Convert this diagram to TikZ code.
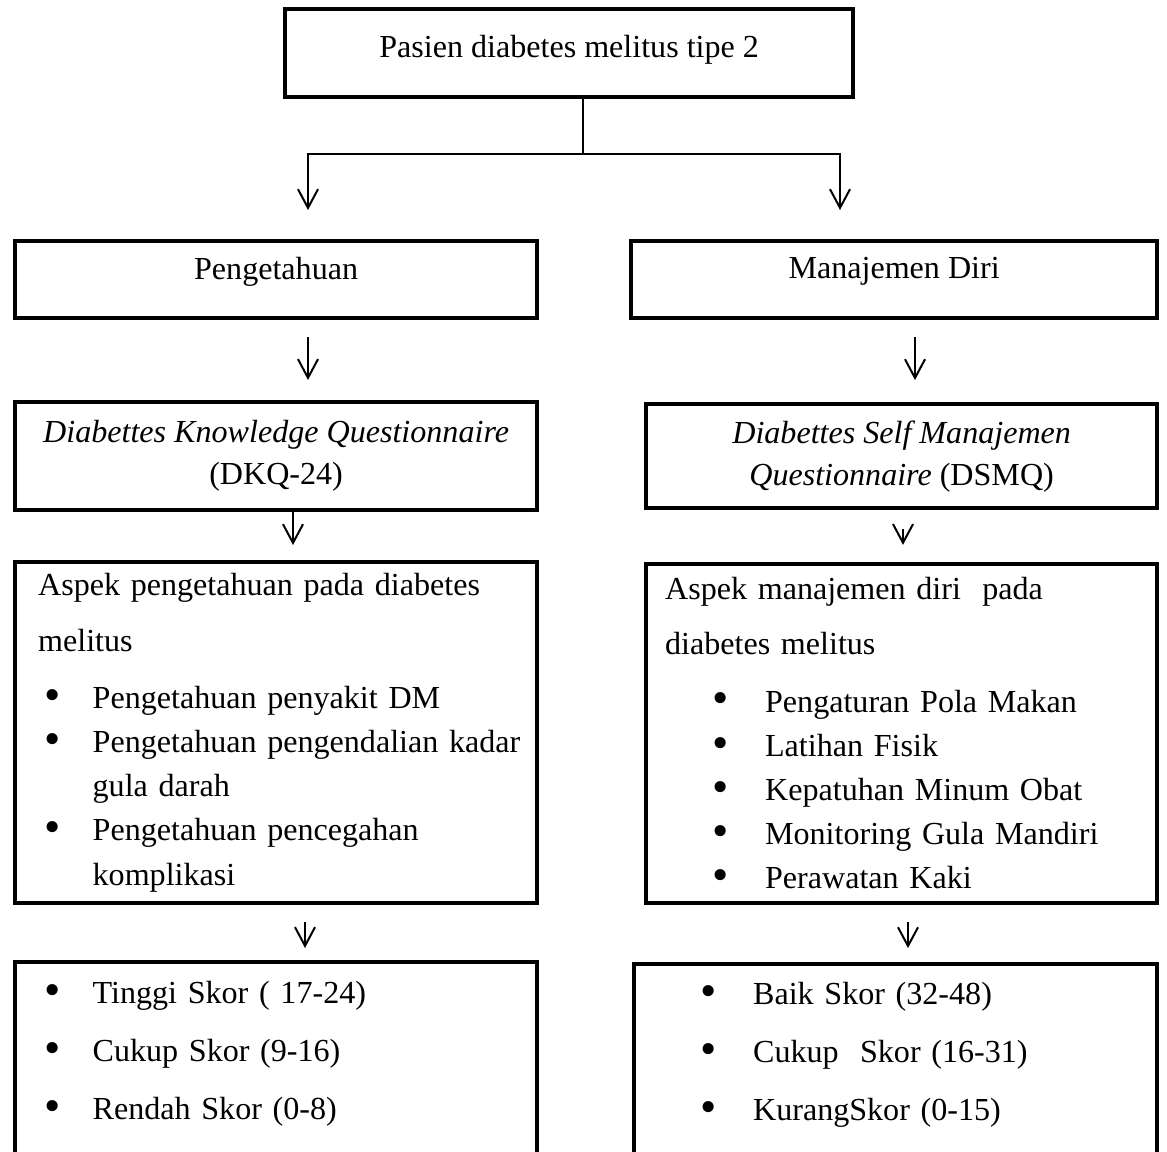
\documentclass[tikz,border=0pt]{standalone}
\usepackage{fontspec}
\setmainfont{Liberation Serif}
\usetikzlibrary{arrows.meta,calc,positioning}
\tikzset{%
    box/.style={%
        rectangle, draw=black, line width=1.6pt, anchor=north west, inner sep=0pt,
        font=\fontsize{12}{16.5}\selectfont
    },
    listbox/.style={%
        box, align=left, inner xsep=#1
    },
    com/.style={%
        -{Straight Barb[length=7pt,width=7.5pt]}, line width=0.75pt
    },
}
\newcommand{\bul}{\raisebox{-0.6pt}{\scalebox{1.45}{\textbullet}}}
\newcommand{\itm}[3]{\makebox[#2][l]{\hspace*{#1}\bul}\mbox{#3}}
\newcommand{\itmL}[1]{\itm{2.2pt}{20.4pt}{#1}}
\newcommand{\itmR}[1]{\itm{17.9pt}{37.4pt}{#1}}
\begin{document}
\begin{tikzpicture}[x=0.374pt,y=-0.374pt]
    \useasboundingbox (0,0) rectangle (1167,1151);
    \clip (0,0) rectangle (1167,1151);

    % boxes
    \node[box, minimum width=212.4pt, minimum height=32.9pt, text depth=5.1pt] (pasien) at (283,7) {Pasien diabetes melitus tipe 2};
    \node[box, minimum width=195.2pt, minimum height=28.8pt, text depth=8.6pt] (peng) at (13,239) {Pengetahuan};
    \node[box, minimum width=196.7pt, minimum height=28.8pt, text depth=8.6pt] (mandiri) at (629,239) {Manajemen Diri};
    \node[box, minimum width=195.2pt, minimum height=40.4pt, align=center, font=\fontsize{12}{15.7}\selectfont] (dkq) at (13,400)
        {\textit{Diabettes Knowledge Questionnaire}\\(DKQ-24)};
    \node[box, minimum width=191.1pt, minimum height=38.9pt, align=center, font=\fontsize{12}{15.7}\selectfont] (dsmq) at (644,402)
        {\textit{Diabettes Self Manajemen}\\\textit{Questionnaire} (DSMQ)};
    \node[listbox=8.6pt, text width=178pt, minimum height=127.5pt] (aspekP) at (13,560) {%
        Aspek pengetahuan pada diabetes\\[4.5pt]
        melitus\\[4.8pt]
        \itmL{Pengetahuan penyakit DM}\\
        \itmL{Pengetahuan pengendalian kadar}\\
        \hspace*{20.4pt}\mbox{gula darah}\\
        \itmL{Pengetahuan pencegahan}\\
        \hspace*{20.4pt}\mbox{komplikasi}};
    \node[listbox=7.1pt, text width=176.9pt, minimum height=126.8pt] (aspekM) at (644,562) {%
        Aspek manajemen diri\ \ pada\\[4.1pt]
        diabetes melitus\\[5.2pt]
        \itmR{Pengaturan Pola Makan}\\
        \itmR{Latihan Fisik}\\
        \itmR{Kepatuhan Minum Obat}\\
        \itmR{Monitoring Gula Mandiri}\\
        \itmR{Perawatan Kaki}};
    \node[listbox=8.6pt, text width=178pt, inner ysep=7.3pt] (skorP) at (13,960) {%
        \itmL{Tinggi Skor ( 17-24)}\\[5.2pt]
        \itmL{Cukup Skor (9-16)}\\[5.2pt]
        \itmL{Rendah Skor (0-8)}\\[40pt]
        \mbox{}};
    \node[listbox=7.1pt, text width=181.4pt, inner ysep=6.8pt] (skorM) at (632,962) {%
        \itmR{Baik Skor (32-48)}\\[5.2pt]
        \itmR{Cukup\ \ Skor (16-31)}\\[5.2pt]
        \itmR{KurangSkor (0-15)}\\[40pt]
        \mbox{}};

    % connectors
    \coordinate (split) at (583,154);
    \coordinate (aL) at (308,210);
    \coordinate (aR) at (840,210);
    \foreach \n/\x in {pk/308, mk/915, ka/293, ma/903, ps/305, ms/908}
        \coordinate (\n) at (\x,0);

    \draw[line width=0.75pt] (pasien.south -| split) -- (split);
    \draw[com] (split) -| (aL);
    \draw[com] (split) -| (aR);

    \draw[com, shorten <=6.4pt, shorten >=7.5pt] (peng.south -| pk) -- (dkq.north -| pk);
    \draw[com, shorten <=6.4pt, shorten >=8.2pt] (mandiri.south -| mk) -- (dsmq.north -| mk);
    \draw[com, shorten >=5.6pt] (dkq.south -| ka) -- (aspekP.north -| ka);
    \draw[com, shorten <=7.1pt, shorten >=6.4pt] (dsmq.south -| ma) -- (aspekM.north -| ma);
    \draw[com, shorten <=6.4pt, shorten >=4.5pt] (aspekP.south -| ps) -- (skorP.north -| ps);
    \draw[com, shorten <=6.4pt, shorten >=5.2pt] (aspekM.south -| ms) -- (skorM.north -| ms);
\end{tikzpicture}
\end{document}
